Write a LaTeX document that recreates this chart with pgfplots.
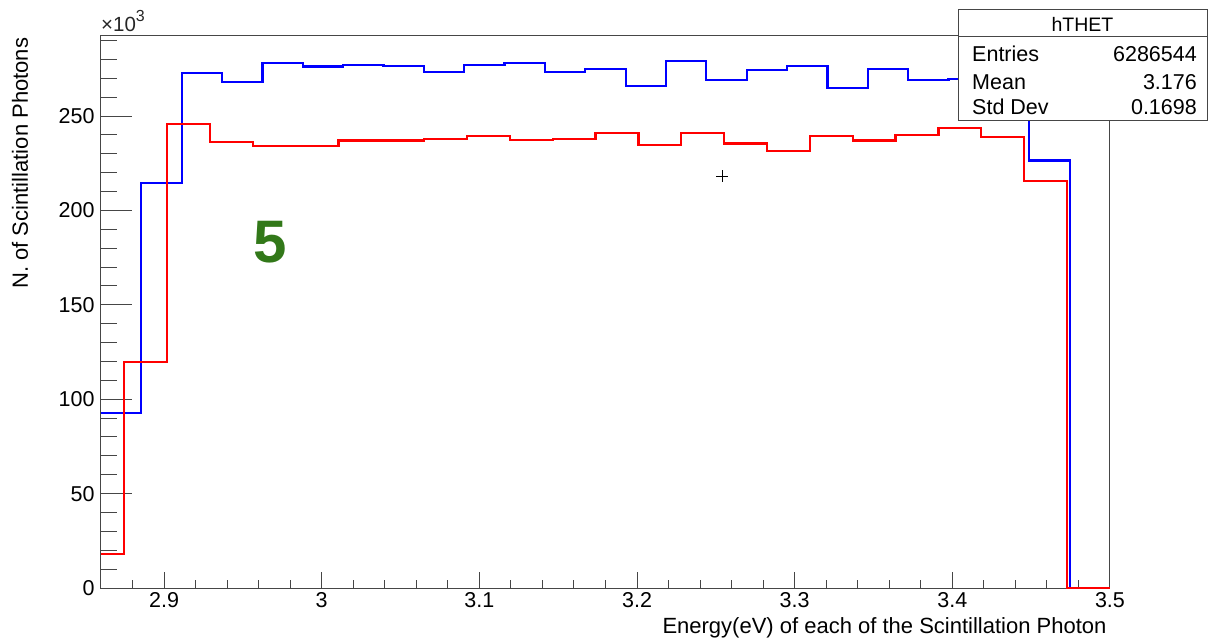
\documentclass[border=0pt]{standalone}
\usepackage{pgfplots}
\pgfplotsset{compat=1.18}
\usepackage{fontspec}
\setmainfont{Liberation Sans}
\definecolor{rootgreen}{RGB}{50,120,25}
\definecolor{framegray}{RGB}{70,70,70}
\begin{document}
\begin{tikzpicture}[x=1pt,y=1pt]
\useasboundingbox (-101,-52) rectangle (1108,588);
\begin{axis}[
  at={(0,0)}, anchor=south west,
  scale only axis, width=1009pt, height=552pt,
  xmin=2.86, xmax=3.5, ymin=0, ymax=292.4,
  clip=false,
  axis line style={framegray, line width=1pt},
  tick pos=left, tick align=inside,
  xtick={2.9,3.0,3.1,3.2,3.3,3.4,3.5},
  minor xtick={2.86,2.88,2.92,2.94,2.96,2.98,3.02,3.04,3.06,3.08,3.12,3.14,3.16,3.18,3.22,3.24,3.26,3.28,3.32,3.34,3.36,3.38,3.42,3.44,3.46,3.48},
  ytick={0,50,100,150,200,250},
  minor ytick={10,20,30,40,60,70,80,90,110,120,130,140,160,170,180,190,210,220,230,240,260,270,280,290},
  xtick style={framegray, line width=1pt, /pgfplots/major tick length=16pt, /pgfplots/minor tick length=8pt},
  ytick style={framegray, line width=1pt, /pgfplots/major tick length=31pt, /pgfplots/minor tick length=16pt},
  ticklabel style={font=\fontsize{21.5}{25}\selectfont},
  /pgf/number format/assume math mode=true,
  yticklabel style={xshift=-3pt},
  xticklabel style={yshift=-1pt},
  xlabel={Energy(eV) of each of the Scintillation Photon},
  xlabel style={at={(axis description cs:1,-0.0725)}, anchor=east, font=\fontsize{22}{26}\selectfont},
  ylabel={N. of Scintillation Photons},
  ylabel style={at={(axis description cs:-0.0803,1.003)}, anchor=east, rotate=0, font=\fontsize{22}{26}\selectfont},
]
\addplot[const plot, color={rgb,255:red,0;green,0;blue,255}, line width=2.2pt] coordinates {
(2.8600,92.6) (2.8856,214.5) (2.9112,272.8) (2.9368,267.9) (2.9624,278.3)
(2.9880,276.2) (3.0136,277.0) (3.0392,276.7) (3.0648,273.4) (3.0904,277.2)
(3.1160,278.0) (3.1416,273.4) (3.1672,275.1) (3.1928,266.1) (3.2184,279.2)
(3.2440,269.3) (3.2696,274.6) (3.2952,276.7) (3.3208,264.7) (3.3464,275.1)
(3.3720,269.3) (3.3976,269.8) (3.4232,271.0) (3.4488,226.5) (3.4744,0)
(3.5000,0)
};
\addplot[const plot, color={rgb,255:red,255;green,0;blue,0}, line width=2.2pt] coordinates {
(2.8600,17.8) (2.8746,119.7) (2.9018,245.8) (2.9290,236.3) (2.9562,234.1)
(2.9834,234.1) (3.0106,237.0) (3.0377,237.0) (3.0649,237.7) (3.0921,239.5)
(3.1193,237.5) (3.1465,238.0) (3.1737,241.0) (3.2009,234.7) (3.2281,241.0)
(3.2553,235.5) (3.2825,231.5) (3.3096,239.6) (3.3368,237.0) (3.3640,239.8)
(3.3912,243.7) (3.4184,239.1) (3.4456,215.6) (3.4728,0) (3.5000,0)
};
\addplot[only marks, mark=+, mark size=6pt, black, line width=0.8pt] coordinates {(3.254,218.2)};
\end{axis}
% multiplier
\node[anchor=base west, inner sep=0pt, font=\fontsize{20.5}{22}\selectfont, text=black!85] at (0,556) {×10\raisebox{10pt}{\fontsize{16}{17}\selectfont 3}};
% green label
\node[font=\fontsize{60}{60}\selectfont\bfseries, text=rootgreen] at (169,346) {5};
% stats box
\draw[framegray, line width=1pt, fill=white] (857,467) rectangle (1106,578);
\draw[framegray, line width=1pt] (857,551) -- (1106,551);
\node[anchor=base, inner sep=0pt, font=\fontsize{19.5}{22}\selectfont] at (981.5,556) {hTHET};
\node[anchor=base west, inner sep=0pt, font=\fontsize{21.5}{24}\selectfont] at (871,526) {Entries};
\node[anchor=base east, inner sep=0pt, font=\fontsize{21.5}{24}\selectfont] at (1096,526) {6286544};
\node[anchor=base west, inner sep=0pt, font=\fontsize{21.5}{24}\selectfont] at (871,498) {Mean};
\node[anchor=base east, inner sep=0pt, font=\fontsize{21.5}{24}\selectfont] at (1096,498) {3.176};
\node[anchor=base west, inner sep=0pt, font=\fontsize{21.5}{24}\selectfont] at (871,473) {Std Dev};
\node[anchor=base east, inner sep=0pt, font=\fontsize{21.5}{24}\selectfont] at (1096,473) {0.1698};
\end{tikzpicture}
\end{document}
